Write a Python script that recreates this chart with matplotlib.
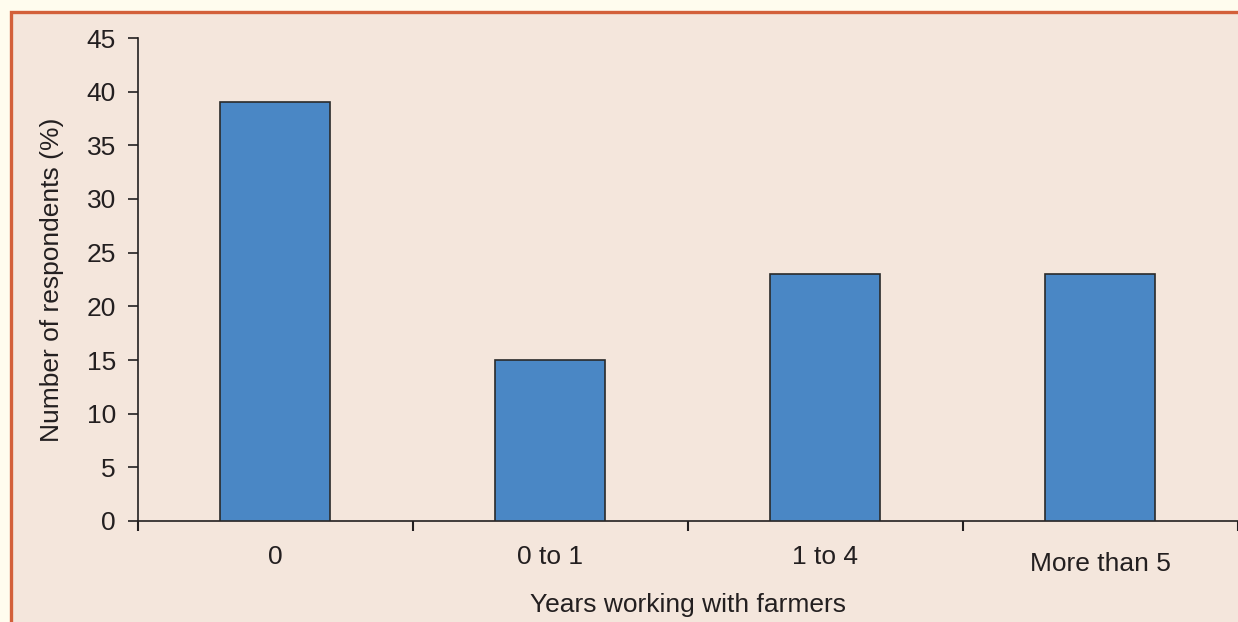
import matplotlib
matplotlib.use('Agg')
from matplotlib import pyplot as plt
from matplotlib.patches import Rectangle
from matplotlib import transforms
import numpy as np

# DATA
categories = ['0', '0 to 1', '1 to 4', 'More than 5']
respondents_pct = [39, 15, 23, 23]
y_ticks = list(range(0, 50, 5))

# STYLE
PANEL = '#F4E6DC'
OUTER = '#FFFCEE'
BORDER = '#D3603A'
BAR = '#4A87C5'
TEXT = '#231F20'
FS = 19

plt.rcParams['font.family'] = ['Liberation Sans', 'DejaVu Sans']


def main():
    W, H = 1238, 622
    fig = plt.figure(figsize=(W / 100, H / 100), dpi=100, facecolor=OUTER)

    # panel with orange rule on top and left
    fig.patches.append(Rectangle((10.5 / W, -0.1), 1.2, 610 / H + 0.1,
                                 transform=fig.transFigure, facecolor=PANEL,
                                 edgecolor=BORDER, linewidth=2.4, zorder=-10))

    ax = fig.add_axes([138 / W, 101 / H, (1237.5 - 138) / W, (521 - 38) / H])
    ax.set_facecolor('none')
    ax.set_zorder(1)

    x = np.arange(len(categories)) + 0.5
    ax.bar(x, respondents_pct, width=0.4, color=BAR, edgecolor='#2A2A2A',
           linewidth=1.2, zorder=3)

    ax.set_xlim(0, len(categories))
    ax.set_ylim(0, 45)

    for side in ['top', 'right']:
        ax.spines[side].set_visible(False)
    for side in ['left', 'bottom']:
        ax.spines[side].set_color(TEXT)
        ax.spines[side].set_linewidth(1.2)

    ax.set_yticks(y_ticks)
    ax.tick_params(axis='y', direction='out', length=7, width=1.2,
                   color=TEXT, labelsize=FS, labelcolor=TEXT, pad=9)

    # category boundaries as major ticks, labels on minor ticks
    ax.set_xticks(np.arange(len(categories) + 1))
    ax.set_xticklabels([])
    ax.set_xticks(x, minor=True)
    ax.set_xticklabels(categories, minor=True)
    ax.tick_params(axis='x', which='major', direction='out', length=7,
                   width=1.5, color=TEXT)
    ax.tick_params(axis='x', which='minor', length=0, labelsize=FS,
                   labelcolor=TEXT, pad=17.5)

    # last label sits a little lower
    lbl = ax.get_xticklabels(minor=True)[-1]
    lbl.set_transform(lbl.get_transform() +
                      transforms.ScaledTranslation(0, -7 / 100, fig.dpi_scale_trans))

    ax.set_ylabel('Number of respondents (%)', fontsize=FS, color=TEXT, labelpad=16)
    ax.set_xlabel('Years working with farmers', fontsize=FS, color=TEXT, labelpad=12)

    fig.savefig('out.png', dpi=100, facecolor=OUTER)


if __name__ == '__main__':
    main()
